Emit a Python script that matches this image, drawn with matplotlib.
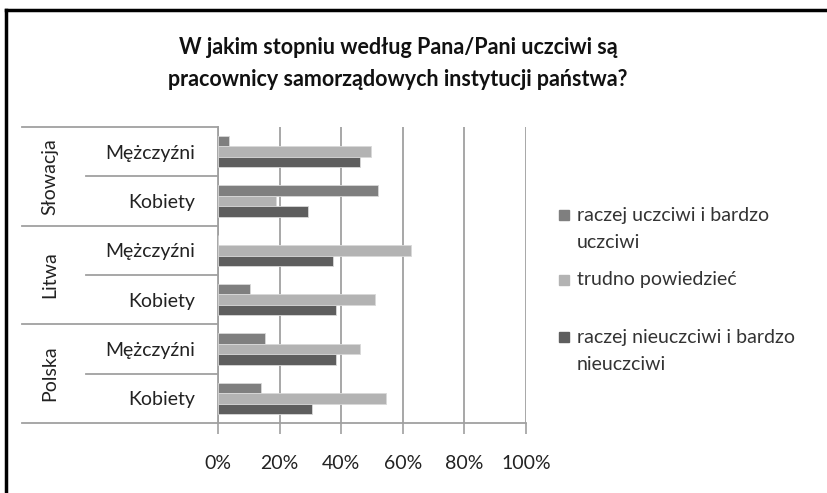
import numpy as np
import matplotlib.pyplot as plt
import matplotlib.transforms as mtransforms
from matplotlib.lines import Line2D

plt.rcParams['font.family'] = ['Lato', 'DejaVu Sans']

# categories top -> bottom
countries = ['Słowacja', 'Litwa', 'Polska']
genders = ['Mężczyźni', 'Kobiety']
labels = [g for c in countries for g in genders]

series_names = ['raczej uczciwi i bardzo\nuczciwi', 'trudno powiedzieć',
                'raczej nieuczciwi i bardzo\nnieuczciwi']
uczciwi = [3.7, 52.0, 0.0, 10.3, 15.4, 13.9]
trudno = [49.8, 18.7, 62.8, 50.9, 46.2, 54.5]
nieuczciwi = [46.2, 29.2, 37.2, 38.2, 38.2, 30.4]
colors = ['#7f7f7f', '#b3b3b3', '#5e5e5e']

fig = plt.figure(figsize=(8.28, 4.93), dpi=100)
ax = fig.add_axes([218/828, 1-423/493, 308/828, 296/493])

y = np.arange(len(labels)) + 0.5
h = 0.213
for k, (vals, col, name) in enumerate(zip([uczciwi, trudno, nieuczciwi], colors, series_names)):
    ax.barh(y + (k-1)*h, vals, height=h, color=col, edgecolor='#d8d8d8', linewidth=0.6,
            label=name, zorder=3)

ax.set_xlim(0, 100)
ax.set_ylim(len(labels), 0)
ax.set_xticks(np.arange(0, 101, 20))
ax.set_xticklabels([f'{v}%' for v in range(0, 101, 20)], fontsize=14, color='#222222')
ax.tick_params(axis='x', length=8, width=1.2, color='#a0a0a0', pad=15)
ax.set_yticks(y)
ax.set_yticklabels(labels, fontsize=14, color='#222222')
ax.tick_params(axis='y', length=0, pad=16.5)
ax.grid(axis='x', color='#a0a0a0', linewidth=1.3, zorder=0)
for s in ['top', 'right']:
    ax.spines[s].set_visible(False)
for s in ['left', 'bottom']:
    ax.spines[s].set_color('#a0a0a0')
    ax.spines[s].set_linewidth(1.3)

# category separators on the left
tr = mtransforms.blended_transform_factory(ax.transAxes, ax.transData)
for b in [0, 2, 4, 6]:
    ax.plot([-0.636, 0], [b, b], color='#a0a0a0', lw=1.3, transform=tr, clip_on=False)
for b in [1, 3, 5]:
    ax.plot([-0.429, 0], [b, b], color='#a0a0a0', lw=1.3, transform=tr, clip_on=False)
for i, c in enumerate(countries):
    ax.text(-0.545, 2*i + 1, c, transform=tr, rotation=90, ha='center', va='center',
            fontsize=14, color='#222222')

fig.text(398/828, 1-48/493, 'W jakim stopniu według Pana/Pani uczciwi są',
         ha='center', va='center', fontsize=15.5, fontweight='bold', color='#111111')
fig.text(398/828, 1-80/493, 'pracownicy samorządowych instytucji państwa?',
         ha='center', va='center', fontsize=15.5, fontweight='bold', color='#111111')

# legend
leg_y = [(215, 243), (280,), (337, 365)]
for col, name, ys in zip(colors, series_names, leg_y):
    fig.patches.append(plt.Rectangle((559/828, 1-(ys[0]+5)/493), 10/828, 10/493,
                                     color=col, transform=fig.transFigure))
    for line, yy in zip(name.split('\n'), ys):
        fig.text(577/828, 1-yy/493, line, ha='left', va='center', fontsize=14, color='#333333')

# frame
fig.add_artist(Line2D([6/828, 6/828], [0, 1-10/493], color='black', lw=2.5, transform=fig.transFigure))
fig.add_artist(Line2D([6/828, 1], [1-10/493, 1-10/493], color='black', lw=2.5, transform=fig.transFigure))

fig.savefig('out.png', dpi=100)
